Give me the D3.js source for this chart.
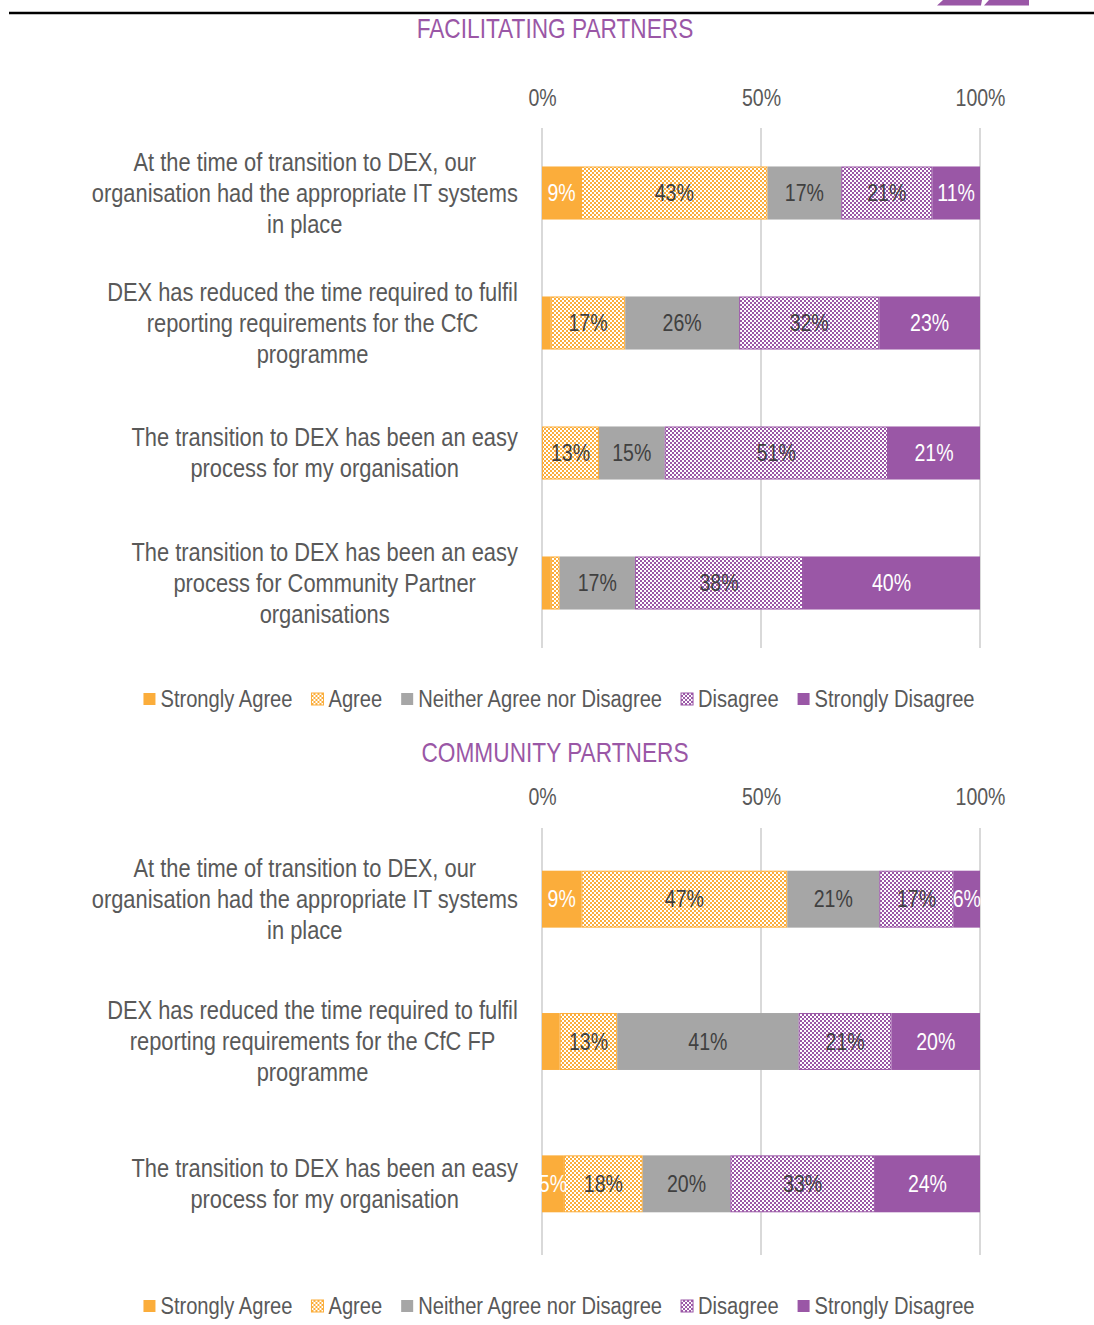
<!DOCTYPE html>
<html>
<head>
<meta charset="utf-8">
<script src="https://cdn.jsdelivr.net/npm/d3@7"></script>
<style>
  html, body { margin: 0; padding: 0; background: #fff; }
  svg { display: block; }
  text { font-family: "Liberation Sans", Arial, sans-serif; }
</style>
</head>
<body>
<svg id="chart" width="1094" height="1325"></svg>
<script>
// Response categories (stack order, left to right)
const seriesNames = ["Strongly Agree", "Agree", "Neither Agree nor Disagree", "Disagree", "Strongly Disagree"];
const seriesKeys = ["sa", "a", "n", "d", "sd"];
const tickValues = [0, 0.5, 1];
const tickLabels = ["0%", "50%", "100%"];

// Facilitating partners
const fpTitle = "FACILITATING PARTNERS";
const fpStatements = [
  ["At the time of transition to DEX, our", "organisation had the appropriate IT systems", "in place"],
  ["DEX has reduced the time required to fulfil", "reporting requirements for the CfC", "programme"],
  ["The transition to DEX has been an easy", "process for my organisation"],
  ["The transition to DEX has been an easy", "process for Community Partner", "organisations"]
];
const fpStronglyAgree    = [9, 2, 0, 2];
const fpAgree            = [43, 17, 13, 2];
const fpNeither          = [17, 26, 15, 17];
const fpDisagree         = [21, 32, 51, 38];
const fpStronglyDisagree = [11, 23, 21, 40];

// Community partners
const cpTitle = "COMMUNITY PARTNERS";
const cpStatements = [
  ["At the time of transition to DEX, our", "organisation had the appropriate IT systems", "in place"],
  ["DEX has reduced the time required to fulfil", "reporting requirements for the CfC FP", "programme"],
  ["The transition to DEX has been an easy", "process for my organisation"]
];
const cpStronglyAgree    = [9, 4, 5];
const cpAgree            = [47, 13, 18];
const cpNeither          = [21, 41, 20];
const cpDisagree         = [17, 21, 33];
const cpStronglyDisagree = [6, 20, 24];

const ORANGE = "#FBAD3B";
const GREY = "#A6A6A6";
const PURPLE = "#9A57A6";
const TEXT = "#595959";
const DARK = "#404040";

// narrow face: regular sans squeezed horizontally
const NARROW = 0.875;
const TITLE_NARROW = 0.84;
const NUM_FONT = "Roboto, 'Liberation Sans', sans-serif";
const NUM_NARROW = 0.85;

const fills = {
  sa: ORANGE,
  a: "url(#chk-orange)",
  n: GREY,
  d: "url(#chk-purple)",
  sd: PURPLE
};
const strokes = { sa: "none", a: ORANGE, n: "none", d: PURPLE, sd: "none" };
const labelColors = { sa: "#ffffff", a: DARK, n: DARK, d: DARK, sd: "#ffffff" };

const svg = d3.select("#chart");

// Checkerboard fills for the "Agree" / "Disagree" segments
const defs = svg.append("defs");
function checker(id, color) {
  const p = defs.append("pattern")
    .attr("id", id).attr("patternUnits", "userSpaceOnUse")
    .attr("width", 4).attr("height", 4);
  p.append("rect").attr("width", 4).attr("height", 4).attr("fill", "#fff");
  p.append("rect").attr("width", 2).attr("height", 2).attr("fill", color);
  p.append("rect").attr("x", 2).attr("y", 2).attr("width", 2).attr("height", 2).attr("fill", color);
}
checker("chk-orange", ORANGE);
checker("chk-purple", PURPLE);

// Page header rule and corner tabs
svg.append("line").attr("x1", 9).attr("x2", 1094).attr("y1", 13).attr("y2", 13)
  .attr("stroke", "#000").attr("stroke-width", 2.5);
svg.append("path").attr("d", "M937,5.5 L943,0 L982,0 L981,5.5 Z").attr("fill", PURPLE);
svg.append("path").attr("d", "M984,5.5 L989,0 L1029,0 L1029,5.5 Z").attr("fill", PURPLE);

const x = d3.scaleLinear().domain([0, 1]).range([542, 980]);

function drawPanel(cfg) {
  const g = svg.append("g");
  const rows = cfg.statements.map((s, i) => ({
    idx: i,
    sa: cfg.values[0][i], a: cfg.values[1][i], n: cfg.values[2][i],
    d: cfg.values[3][i], sd: cfg.values[4][i]
  }));

  // Title
  g.append("text")
    .attr("transform", `translate(555,${cfg.titleY}) scale(${TITLE_NARROW},1)`)
    .attr("text-anchor", "middle").attr("font-size", 27)
    .attr("fill", PURPLE).text(cfg.title);

  const y = d3.scaleBand().domain(rows.map(r => r.idx))
    .range([cfg.gridTop, cfg.gridBottom])
    .paddingInner(cfg.pad).paddingOuter(cfg.pad / 2);

  // Vertical gridlines
  g.selectAll(".grid").data(tickValues).join("line")
    .attr("x1", d => x(d)).attr("x2", d => x(d))
    .attr("y1", cfg.gridTop).attr("y2", cfg.gridBottom)
    .attr("stroke", "#D9D9D9").attr("stroke-width", 2);

  // Top axis labels
  const axis = d3.axisTop(x).tickValues(tickValues)
    .tickFormat((d, i) => tickLabels[i]).tickSize(0).tickPadding(0);
  const ag = g.append("g").attr("transform", `translate(0,${cfg.tickY})`).call(axis);
  ag.select(".domain").remove();
  ag.selectAll("text").attr("font-size", 23).attr("fill", TEXT)
    .attr("font-family", NUM_FONT)
    .attr("dy", 0).attr("y", 0)
    .attr("transform", `scale(${NUM_NARROW},1)`);

  // Stacked shares (each row normalised to 100%)
  const stack = d3.stack().keys(seriesKeys).offset(d3.stackOffsetExpand);
  const layers = stack(rows);

  layers.forEach(layer => {
    const key = layer.key;
    const inset = strokes[key] === "none" ? 0 : 0.5;
    g.append("g").selectAll("rect").data(layer.filter(d => d[1] > d[0])).join("rect")
      .attr("x", d => x(d[0]) + inset)
      .attr("y", d => y(d.data.idx) + inset)
      .attr("width", d => x(d[1]) - x(d[0]) - 2 * inset)
      .attr("height", y.bandwidth() - 2 * inset)
      .attr("fill", fills[key])
      .attr("stroke", strokes[key])
      .attr("stroke-width", 1);
  });

  layers.forEach(layer => {
    const key = layer.key;
    g.append("g").selectAll("text").data(layer.filter(d => d.data[key] >= 5)).join("text")
      .attr("transform", d =>
        `translate(${(x(d[0]) + x(d[1])) / 2},${y(d.data.idx) + y.bandwidth() / 2}) scale(${NUM_NARROW},1)`)
      .attr("dy", "0.36em")
      .attr("text-anchor", "middle")
      .attr("font-size", 23)
      .attr("font-family", NUM_FONT)
      .attr("fill", labelColors[key])
      .text(d => d.data[key] + "%");
  });

  // Statement labels: lines centred within a block whose right edge sits at 518
  rows.forEach(r => {
    const lines = cfg.statements[r.idx];
    const cy = y(r.idx) + y.bandwidth() / 2;
    const tg = g.append("g");
    const texts = tg.selectAll("text").data(lines).join("text")
      .attr("font-size", 25).attr("fill", TEXT)
      .attr("text-anchor", "middle")
      .attr("dy", "0.35em")
      .text(d => d);
    let maxW = 0;
    texts.each(function () { maxW = Math.max(maxW, this.getComputedTextLength() * NARROW); });
    const cx = 518 - maxW / 2;
    texts.attr("transform", (d, i) =>
      `translate(${cx},${cy + (i - (lines.length - 1) / 2) * 31}) scale(${NARROW},1)`);
  });

  // Legend
  const leg = g.append("g").attr("transform", `translate(0,${cfg.legendY})`);
  const items = leg.selectAll("g").data(seriesKeys).join("g");
  items.append("rect").attr("width", 12).attr("height", 12).attr("y", -6)
    .attr("fill", d => fills[d])
    .attr("stroke", d => strokes[d]).attr("stroke-width", 1);
  items.append("text")
    .attr("transform", `translate(17,0) scale(${NARROW},1)`)
    .attr("dy", "0.35em")
    .attr("font-size", 23).attr("fill", TEXT)
    .text((d, i) => seriesNames[i]);
  const widths = [];
  items.each(function () {
    widths.push(17 + d3.select(this).select("text").node().getComputedTextLength() * NARROW);
  });
  const gap = 19;
  const total = d3.sum(widths) + gap * (widths.length - 1);
  let cx = 559 - total / 2;
  items.attr("transform", (d, i) => {
    const t = `translate(${cx},0)`;
    cx += widths[i] + gap;
    return t;
  });
}

drawPanel({
  title: fpTitle, titleY: 38, tickY: 106,
  gridTop: 128, gridBottom: 648, pad: 0.592,
  statements: fpStatements,
  values: [fpStronglyAgree, fpAgree, fpNeither, fpDisagree, fpStronglyDisagree],
  legendY: 699
});

drawPanel({
  title: cpTitle, titleY: 762, tickY: 805,
  gridTop: 828, gridBottom: 1255, pad: 0.6,
  statements: cpStatements,
  values: [cpStronglyAgree, cpAgree, cpNeither, cpDisagree, cpStronglyDisagree],
  legendY: 1306
});
</script>
</body>
</html>
